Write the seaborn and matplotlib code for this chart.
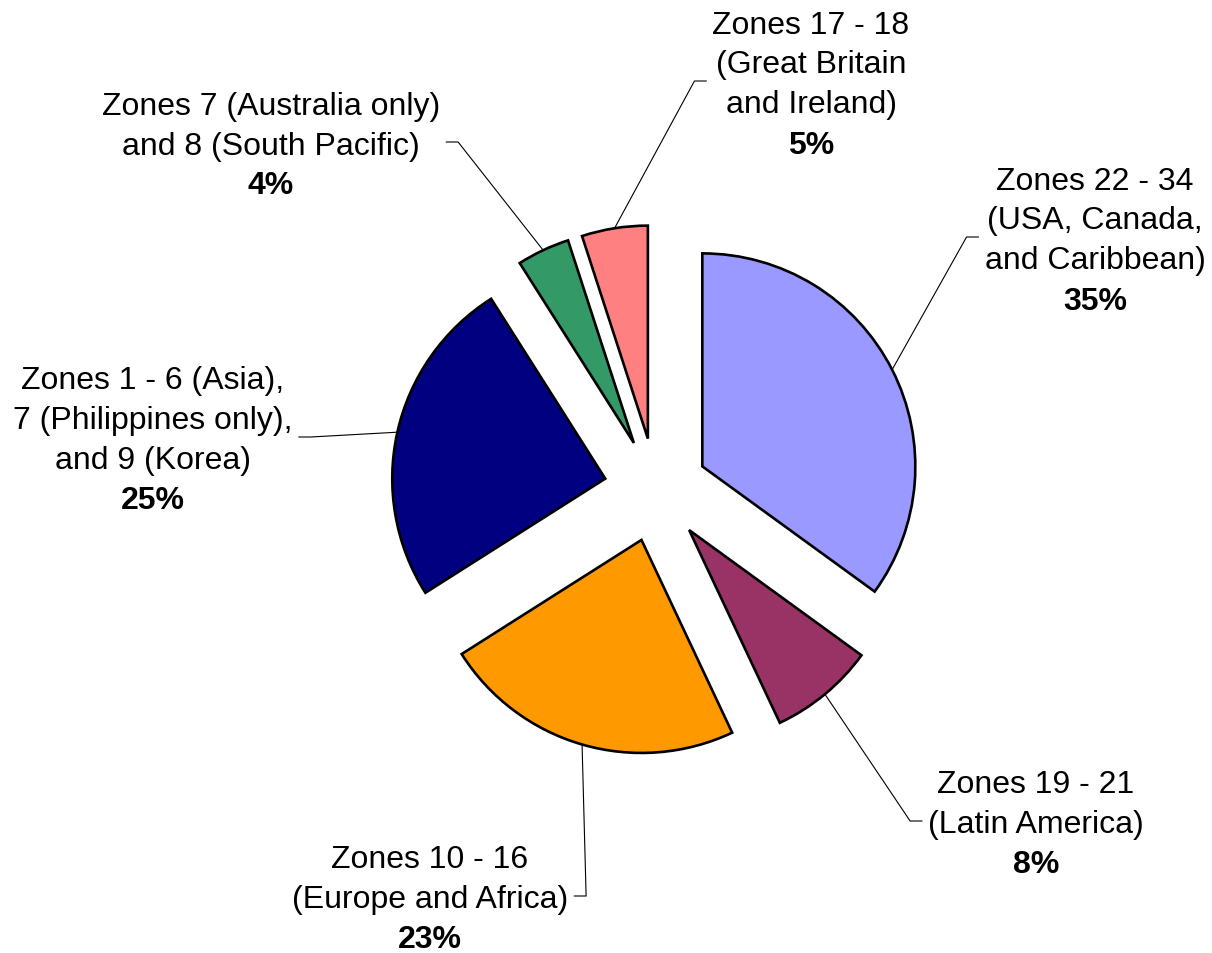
import numpy as np
import matplotlib
matplotlib.use("Agg")
import matplotlib.pyplot as plt
import seaborn as sns

# slices, clockwise from 12 o'clock
zones = [
    "Zones 22 - 34\n(USA, Canada,\nand Caribbean)",
    "Zones 19 - 21\n(Latin America)",
    "Zones 10 - 16\n(Europe and Africa)",
    "Zones 1 - 6 (Asia),\n7 (Philippines only),\nand 9 (Korea)",
    "Zones 7 (Australia only)\nand 8 (South Pacific)",
    "Zones 17 - 18\n(Great Britain\nand Ireland)",
]
shares = [35, 8, 23, 25, 4, 5]
colors = ["#9999FF", "#993366", "#FF9900", "#000080", "#339966", "#FF8080"]

# layout: label block centres in pixels from the top-left corner
label_pos = [(1095, 238), (1036, 822), (430, 897), (153, 438), (271, 143), (811, 82)]

W, H = 1212, 954
sns.set_theme(style="white")
plt.rcParams["font.family"] = ["Liberation Sans", "DejaVu Sans"]

fig = plt.figure(figsize=(W / 100, H / 100), dpi=100)
ax = fig.add_axes([0, 0, 1, 1])
# pie explode is in data units here (1 unit = 1 px)
wedges, _ = ax.pie(shares, colors=colors, startangle=90, counterclock=False,
                   explode=[52] * len(shares), radius=213, center=(656, H - 491),
                   wedgeprops=dict(edgecolor="black", linewidth=1.9))
ax.set_xlim(0, W)
ax.set_ylim(0, H)
ax.set_aspect("equal")
ax.axis("off")

fs = 23
step = 40
renderer = fig.canvas.get_renderer()
for w, name, pct, (lx, ly) in zip(wedges, zones, shares, label_pos):
    lines = name.split("\n") + [f"{pct}%"]
    n = len(lines)
    texts = []
    for k, line in enumerate(lines):
        mid = ly + (k - (n - 1) / 2) * step
        t = ax.text(lx, H - (mid + 11.5), line, ha="center", va="baseline", fontsize=fs,
                    fontweight="bold" if k == n - 1 else "normal", color="black")
        texts.append(t)
    # leader line from the middle of the arc to the label
    ang = np.deg2rad((w.theta1 + w.theta2) / 2)
    px = w.center[0] + w.r * np.cos(ang)
    py = w.center[1] + w.r * np.sin(ang)
    ext = [t.get_window_extent(renderer) for t in texts]
    if lx > px:
        end = min(e.x0 for e in ext) - 6
        elbow = end - 12
    else:
        end = max(e.x1 for e in ext) + 6
        elbow = end + 12
    yc = H - ly
    ax.plot([px, elbow, end], [py, yc, yc], color="black", lw=0.8, zorder=0.5)

fig.savefig("out.png", dpi=100, facecolor="white")
